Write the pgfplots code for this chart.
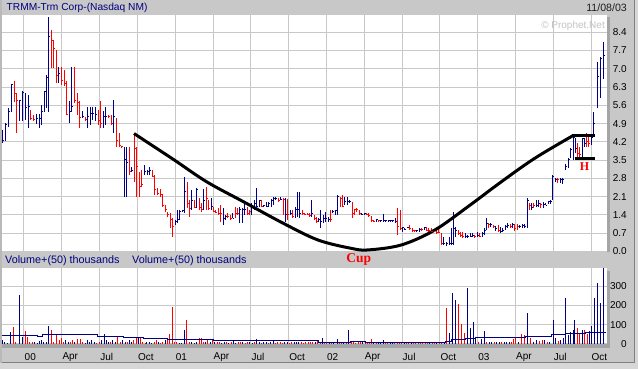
\documentclass[border=0pt]{standalone}
\usepackage{pgfplots}
\pgfplotsset{compat=1.18}
\usepackage{pgfplotstable}
\usepackage{fontspec}
\setmainfont{Liberation Sans}
\newfontfamily\serifbf{Liberation Serif}
\definecolor{navy}{RGB}{0,0,128}
\definecolor{bggray}{RGB}{200,200,200}
\definecolor{gridgray}{RGB}{200,200,200}
\definecolor{stripgray}{RGB}{165,165,165}
\definecolor{edgegray}{RGB}{185,185,185}
\definecolor{lightedge}{RGB}{215,215,215}
\definecolor{darkline}{RGB}{128,128,128}
\definecolor{wm}{RGB}{195,195,195}

\pgfdeclareplotmark{closetick}{%
  \pgfpathmoveto{\pgfqpoint{0pt}{0pt}}%
  \pgfpathlineto{\pgfqpoint{1.5pt}{0pt}}%
  \pgfusepathqstroke}

\pgfplotsset{
  chartax/.style={
    scale only axis, width=605pt, xmin=2, xmax=607,
    axis line style={draw=none}, tick style={draw=none},
    major tick length=0pt,
    grid style={gridgray, line width=1pt},
    xmajorgrids, ymajorgrids,
    xtick={24,61.8,99.6,137.4,175.2,213,250.8,288.6,326.4,364.2,402,439.8,477.6,515.4,553.2,591},
    axis background/.style={fill=white},
    ticklabel style={font=\fontsize{10}{12}\selectfont, text=black},
    yticklabel pos=right,
    yticklabel style={anchor=east, inner sep=0pt, xshift=20pt},
    /pgf/number format/assume math mode=true,
  },
  hlc/.style={only marks, mark=closetick, mark options={line width=1pt},
    error bars/.cd, y dir=both, y explicit, error mark=none,
    error bar style={#1, line width=1pt}},
}

% weekly price bars (chart position, high, low, close): up weeks
\pgfplotstableread{
x h l c
2.7 4.66 4.14 4.27
5.7 4.91 4.23 4.87
8.5 5.51 4.78 5.36
11.3 6.42 5.36 6.38
19.8 5.80 5.00 5.77
22.6 6.15 5.00 6.10
25.4 6.06 5.04 5.50
28.2 6.00 4.74 5.55
36.6 5.26 4.87 5.08
39.4 5.26 4.74 5.08
42.0 5.61 4.85 5.36
44.6 6.15 5.36 6.12
46.6 6.76 5.49 6.66
48.6 9.00 5.36 8.23
59.0 7.08 6.44 6.83
69.4 5.77 4.91 5.36
72.0 7.08 5.36 5.55
82.4 5.38 5.13 5.17
87.6 5.55 4.74 5.17
90.2 5.55 4.85 5.27
92.8 5.55 5.04 5.27
95.4 5.55 5.00 5.26
103.2 5.38 4.74 5.17
105.8 5.55 4.84 5.19
113.6 5.80 4.53 5.19
124.0 4.02 2.10 3.51
126.6 4.02 2.10 3.40
131.6 3.25 3.06 3.10
144.4 3.31 2.93 3.06
147.0 3.12 2.93 3.06
149.6 3.25 2.93 3.10
175.2 1.21 1.02 1.14
177.4 1.59 1.08 1.23
179.8 1.59 1.21 1.55
182.2 1.59 1.53 1.56
184.6 2.87 1.46 2.29
191.8 2.36 1.59 1.97
196.6 2.42 1.65 2.36
203.8 2.38 1.59 1.97
211.0 2.04 1.59 1.72
223.0 1.65 1.02 1.27
225.4 1.40 1.21 1.33
232.6 1.46 1.27 1.27
239.8 1.72 1.08 1.59
242.2 1.65 1.08 1.59
244.6 1.91 1.40 1.62
251.8 1.85 1.40 1.78
254.2 1.97 1.59 1.82
256.6 2.42 1.72 1.74
259.0 1.97 1.72 1.97
263.8 1.80 1.72 1.76
266.2 1.91 1.72 1.74
268.6 1.91 1.72 1.85
271.0 2.00 1.72 1.97
273.4 2.07 1.78 2.04
275.8 2.07 1.97 2.04
280.6 2.07 1.97 2.00
285.4 2.04 1.14 1.40
290.2 1.59 1.40 1.46
295.0 1.72 1.27 1.59
297.4 2.29 1.33 1.59
299.8 2.29 1.27 1.46
311.8 1.97 1.33 1.46
318.6 1.27 1.14 1.21
320.8 1.59 0.89 1.14
323.2 1.40 1.08 1.27
325.6 1.53 1.14 1.27
328.0 1.33 1.14 1.21
332.8 1.59 1.46 1.53
335.2 1.59 1.40 1.56
337.6 2.16 1.40 2.10
344.8 2.10 1.78 1.91
347.2 2.10 1.78 1.91
349.6 1.97 1.85 1.91
361.6 1.46 1.40 1.43
364.0 1.46 1.40 1.46
376.0 1.21 1.14 1.21
380.8 1.21 1.14 1.17
383.2 1.44 1.14 1.17
385.6 1.21 1.14 1.17
388.0 1.21 1.14 1.17
390.4 1.21 1.14 1.17
392.8 1.21 1.14 1.17
395.2 1.27 1.08 1.14
402.4 0.95 0.76 0.91
404.8 0.89 0.82 0.86
407.2 0.95 0.89 0.92
416.8 0.82 0.76 0.82
419.2 0.89 0.76 0.86
424.0 0.95 0.82 0.92
443.8 0.57 0.25 0.31
446.4 0.38 0.22 0.30
449.0 0.57 0.25 0.29
451.0 0.89 0.25 0.29
453.2 1.53 0.25 0.89
455.6 0.95 0.57 0.82
465.2 0.70 0.50 0.57
467.6 0.63 0.50 0.57
470.0 0.70 0.57 0.59
472.4 0.70 0.57 0.63
477.2 0.76 0.57 0.63
482.0 0.76 0.57 0.70
484.0 0.89 0.63 0.82
486.0 1.27 0.82 1.08
490.8 1.08 0.95 1.02
495.6 0.98 0.80 0.89
500.4 0.95 0.70 0.76
502.8 0.89 0.76 0.82
505.2 1.02 0.82 0.95
507.6 1.08 0.89 0.99
512.4 1.08 0.89 1.02
519.6 1.02 0.89 0.95
522.0 1.04 0.91 0.99
524.4 1.04 0.91 0.95
527.0 2.04 0.91 1.97
531.6 1.85 1.59 1.68
536.0 1.97 1.72 1.78
538.4 1.97 1.72 1.85
543.2 1.91 1.68 1.81
545.6 1.85 1.78 1.78
548.0 1.93 1.81 1.91
550.4 1.97 1.81 1.93
552.8 2.93 1.97 2.87
555.2 2.80 2.68 2.76
560.0 2.80 2.61 2.74
562.4 2.83 2.57 2.74
565.2 3.34 3.12 3.25
568.0 3.57 3.19 3.51
570.6 3.95 3.57 3.89
573.0 4.40 3.51 4.36
575.4 4.36 3.76 3.95
582.0 4.36 3.60 4.34
584.4 4.36 4.02 4.14
591.0 4.40 4.08 4.36
593.6 5.35 4.46 4.91
597.0 7.26 5.50 6.69
600.4 7.45 5.90 7.40
603.6 8.03 6.60 7.50
}\priceup

% down weeks
\pgfplotstableread{
x h l c
14.2 6.53 5.74 6.06
17.0 6.06 4.53 5.77
31.0 5.42 5.04 5.08
33.8 5.23 5.00 5.04
51.2 8.50 7.02 8.10
53.8 8.10 7.02 7.78
56.4 7.72 6.44 6.76
61.6 7.08 6.38 6.57
64.2 6.95 6.34 6.44
66.8 6.53 5.23 5.26
74.6 7.08 5.68 5.77
77.2 6.06 5.23 5.72
79.8 5.77 4.74 5.13
85.0 5.17 5.00 5.04
98.0 5.42 4.85 5.00
100.6 5.77 4.72 4.91
108.4 5.23 5.10 5.17
111.0 5.23 4.84 4.91
116.4 5.10 4.02 4.27
119.0 4.53 4.00 4.05
121.6 4.05 4.00 4.02
129.0 4.02 2.93 3.06
134.0 4.46 2.67 3.95
136.6 4.02 2.10 3.25
139.2 3.06 2.10 2.48
141.8 3.12 2.48 2.55
152.2 3.12 2.87 2.89
154.8 2.93 2.16 2.38
157.4 2.42 2.16 2.23
160.0 2.38 2.10 2.19
162.6 2.19 1.72 1.78
165.2 1.78 1.53 1.59
167.8 1.53 1.33 1.40
170.4 1.46 0.89 1.21
172.8 1.27 0.57 0.95
187.0 2.67 1.65 1.85
189.4 1.97 1.33 1.65
194.2 1.97 1.65 1.69
199.0 2.04 1.59 1.69
201.4 1.85 1.53 1.60
206.2 2.48 1.59 2.04
208.6 1.97 1.59 1.65
213.4 1.72 1.53 1.53
215.8 1.59 1.46 1.50
218.2 1.65 1.40 1.46
220.6 1.78 1.14 1.46
227.8 1.46 1.27 1.33
230.2 1.40 1.21 1.27
235.0 1.72 1.27 1.46
237.4 1.65 1.40 1.46
247.0 1.72 1.40 1.46
249.4 1.59 1.40 1.53
261.4 1.97 1.72 1.74
278.2 2.04 1.91 1.97
283.0 2.04 1.40 2.00
287.8 2.00 1.21 1.40
292.6 1.59 1.27 1.33
302.2 1.59 1.40 1.46
304.6 1.46 1.40 1.43
307.0 1.46 1.40 1.40
309.4 1.46 1.33 1.36
314.2 1.40 1.21 1.27
316.4 1.33 1.08 1.14
330.4 1.59 1.14 1.21
340.0 2.10 1.72 2.04
342.4 2.16 1.72 1.74
352.0 1.91 1.27 1.46
354.4 1.59 1.40 1.59
356.8 1.65 1.53 1.59
359.2 1.59 1.40 1.46
366.4 1.46 1.40 1.40
368.8 1.46 1.33 1.36
371.2 1.36 1.14 1.17
373.6 1.21 1.14 1.16
378.4 1.21 1.14 1.17
397.6 1.65 0.63 0.95
400.0 1.59 0.82 0.89
409.6 1.02 0.82 0.89
412.0 0.89 0.76 0.79
414.4 0.82 0.76 0.79
421.6 0.89 0.82 0.84
426.4 0.95 0.80 0.82
428.8 0.89 0.76 0.80
431.2 0.89 0.76 0.78
433.6 0.82 0.76 0.77
436.0 0.82 0.70 0.72
438.4 0.89 0.70 0.73
441.2 0.72 0.25 0.29
458.0 0.82 0.63 0.70
460.4 0.76 0.57 0.63
462.8 0.76 0.50 0.59
474.8 0.63 0.54 0.57
479.6 0.70 0.57 0.59
488.4 1.08 0.89 1.02
493.2 1.02 0.89 0.95
498.0 1.02 0.76 0.82
510.0 1.04 0.89 0.95
514.8 1.04 0.79 0.89
517.2 1.04 0.82 0.95
529.4 1.85 1.59 1.78
533.8 1.85 1.65 1.76
540.8 1.85 1.65 1.81
557.6 2.80 2.61 2.74
577.6 4.14 3.63 3.76
579.8 4.02 3.57 3.72
586.6 4.53 4.02 4.21
588.8 4.46 4.02 4.14
}\pricedn

% weekly volume, thousands: up weeks
\pgfplotstableread{
x v
2.7 21
4.7 12
7.3 3
11 60
19.3 253
22.7 38
34.7 12
37.3 4
39.3 16
42 21
44 12
46.7 12
49 95
66 21
68.3 12
75 9
85 4
87.3 21
89.3 12
91.7 21
94 12
101.7 21
104 50
106 21
108.3 12
112.7 21
115 12
122.7 21
125 12
129.3 21
131.7 12
138.3 29
146.7 12
149.3 9
151.7 4
158.3 12
165 21
179 4
181.7 4
184.3 72
191.7 12
194 4
196.7 12
205.7 12
210 12
214.7 9
221.7 7
224 12
228.7 7
233.3 21
235.7 7
242.7 12
249.7 12
252 7
256.7 26
259 9
263.7 12
266 9
270.7 12
273 21
284.7 12
287 9
294 9
296.3 12
298.7 9
315 12
322 29
329 9
333.7 12
337 24
343.7 12
348.7 72
362.7 9
373.7 9
378.3 7
380.7 9
383 21
390 9
392.3 7
404 9
411 7
429.7 7
436.7 9
444 12
449.7 55
452.3 262
455.3 228
467.3 291
470.3 81
473.3 112
475.7 29
481.3 26
484 67
489 12
491.7 9
496.7 12
499 9
504 9
506.7 12
509 9
518 9
527.3 159
533 9
536.3 21
544.7 21
549.7 12
553 124
555.3 33
560.7 21
563 33
565.3 236
568 47
570.7 60
573 72
574.7 124
582 72
589.7 67
591.3 95
594 240
597.3 314
600.7 210
603.7 393
}\volup

% down weeks
\pgfplotstableread{
x v
13.3 90
16 12
25.3 67
27.3 38
30 9
32.7 12
51.7 72
54 12
56.7 47
59.3 21
61.7 29
64 12
70.7 12
72.7 21
77.3 26
80 26
82.7 12
96.7 4
99.3 9
110.7 12
117.3 43
120 12
127.3 12
133.3 21
136 38
140.7 38
142.7 12
145 4
154 12
156 21
160 4
162.7 12
167.3 21
169.3 50
172 193
174 12
176.7 12
186.7 124
189.3 12
199 29
201 29
203.3 12
207.3 21
212 21
217 12
219.3 12
226.3 9
231 12
238 12
240.3 9
245 7
247.3 9
254.3 9
261.3 7
268.3 7
275.3 7
277.7 9
280 12
282.3 7
289.3 7
291.7 12
301 12
303.3 7
305.7 12
308 9
310.3 12
312.7 9
317.3 21
320 9
324.3 7
326.7 12
331.3 7
339 9
341.3 7
346 7
351 9
353.3 12
355.7 7
358 9
360.3 12
365 7
367.3 9
369.7 12
371.3 24
376 12
385.3 9
387.7 7
394.7 9
397 7
399.3 9
401.7 7
406.3 7
408.7 9
413.3 9
415.7 7
418 9
420.3 7
422.7 9
425 7
427.3 9
432 9
434.3 7
439 7
441.7 12
446.3 188
458.7 205
461.3 103
464.7 55
478.7 12
486.3 12
494 12
501.7 12
511.3 12
513 26
515.7 29
521.3 50
524.7 47
530.3 29
539.7 16
542 21
547.3 12
558 16
577.3 84
579.7 50
584.7 72
587.3 50
}\voldn

\begin{document}
\begin{tikzpicture}[x=1pt,y=1pt]
% frame
\fill[bggray] (0,0) rectangle (638,369);
\fill[edgegray] (0,0) rectangle (2,369);
\fill[lightedge] (635,0) rectangle (638,369);
\fill[lightedge] (0,0) rectangle (638,6);
\draw[darkline, line width=1pt] (634.5,6) -- (634.5,369);
\draw[darkline, line width=1pt] (2,6.5) -- (635,6.5);
\coordinate (pricepos) at (2,117.5);
\coordinate (volpos) at (2,25);

% ---------- price panel ----------
\begin{axis}[chartax,
  at={(pricepos)}, anchor=south west,
  height=236.5pt, ymin=0, ymax=9.061, clip=false,
  xticklabels={},
  ytick={0,0.7,1.4,2.1,2.8,3.5,4.2,4.9,5.6,6.3,7.0,7.7,8.4},
  yticklabels={0.0,0.7,1.4,2.1,2.8,3.5,4.2,4.9,5.6,6.3,7.0,7.7,8.4},
]
\addplot[navy, hlc=navy]
  table[x=x, y=c, y error plus expr=\thisrow{h}-\thisrow{c},
        y error minus expr=\thisrow{c}-\thisrow{l}] {\priceup};
\addplot[red, hlc=red]
  table[x=x, y=c, y error plus expr=\thisrow{h}-\thisrow{c},
        y error minus expr=\thisrow{c}-\thisrow{l}] {\pricedn};
% cup
\addplot[black, line width=3pt, smooth, tension=0.55] coordinates {
  (134,4.52) (173.3,3.53) (206.7,2.67) (243.3,1.91) (283.3,1.08)
  (318,0.44) (351.3,0.12) (368,0.06) (401.3,0.25) (434.7,0.82)
  (468,1.72) (501.3,2.67) (534.7,3.57) (573,4.44)};
% handle
\addplot[black, line width=3pt] coordinates {(572,4.44) (594.5,4.44)};
\addplot[black, line width=3pt] coordinates {(574.5,3.58) (594.5,3.58)};
\node[red, font=\serifbf\bfseries\fontsize{12}{12}\selectfont, inner sep=0pt]
  at (axis cs:584.5,3.27) {H};
\end{axis}

% ---------- volume panel ----------
\begin{axis}[chartax,
  at={(volpos)}, anchor=south west,
  height=76pt, ymin=0, ymax=393.2,
  ytick={0,100,200,300},
  yticklabels={0,100,200,300},
  xticklabels={00,Apr,Jul,Oct,01,Apr,Jul,Oct,02,Apr,Jul,Oct,03,Apr,Jul,Oct},
  xticklabel style={anchor=west, inner sep=0pt, xshift=0.5pt, yshift=-13pt},
]
\addplot[navy, ycomb, line width=1pt] table[x=x, y=v] {\volup};
\addplot[red, ycomb, line width=1pt] table[x=x, y=v] {\voldn};
\addplot[navy, line width=1pt] coordinates {
  (2,43) (38,43) (38,40) (43,40) (43,47) (97,47) (97,38) (123,38) (123,33)
  (143,33) (143,26) (167,26) (167,21) (213,21) (213,16) (318,16) (318,10)
  (350,10) (350,12) (365,12) (365,9) (395,9) (395,8) (445,8) (445,12)
  (451,12) (451,24) (465,24) (465,29) (475,29) (475,34) (525,34) (525,41)
  (551,41) (551,47) (565,47) (565,55) (585,55) (585,62) (606,62)};
\end{axis}

% panel edges
\fill[stripgray] (607,117) rectangle (610,352);
\fill[stripgray] (607,21) rectangle (610,98);
\fill[stripgray] (2,20.5) rectangle (607,24.5);

% texts
\node[anchor=west, navy, inner sep=0pt, font=\fontsize{10.2}{12}\selectfont] at (6.5,361) {TRMM-Trm Corp-(Nasdaq NM)};
\node[anchor=east, inner sep=0pt, font=\fontsize{10.6}{12}\selectfont, text={rgb,255:red,30;green,30;blue,30}] at (627,361) {11/08/03};
\node[anchor=east, inner sep=0pt, font=\fontsize{10}{12}\selectfont, text=wm] at (605,343.2) {\char"00A9\ Prophet.Net};
\node[anchor=west, navy, inner sep=0pt, font=\fontsize{10.8}{12}\selectfont] at (5,108.5) {Volume+(50) thousands};
\node[anchor=west, navy, inner sep=0pt, font=\fontsize{10.8}{12}\selectfont] at (132,108.5) {Volume+(50) thousands};
\node[anchor=base, red, inner sep=0pt, font=\serifbf\bfseries\fontsize{13.5}{14}\selectfont] at (358.8,106) {Cup};

\pgfresetboundingbox
\useasboundingbox (0,0) rectangle (638,369);
\end{tikzpicture}
\end{document}
